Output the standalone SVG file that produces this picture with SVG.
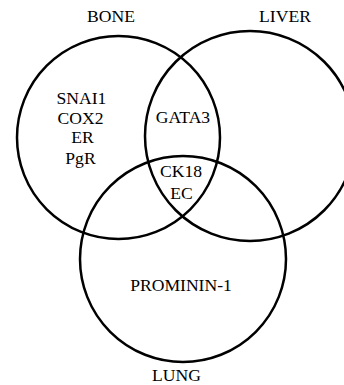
<svg xmlns="http://www.w3.org/2000/svg" width="344" height="385" viewBox="0 0 344 385">
<style>
.c{fill:none;stroke:#000;stroke-width:2.5}
text{font-family:'Liberation Serif','Times New Roman',serif;font-size:17.6px;fill:#000;text-anchor:middle}
</style>
<rect width="344" height="385" fill="#fff"/>
<g id="bone"><circle class="c" cx="118.5" cy="137.5" r="101.5"/><text x="111" y="22">BONE</text></g>
<g id="liver"><circle class="c" cx="250" cy="136" r="105"/><text x="285" y="22">LIVER</text></g>
<g id="lung"><circle class="c" cx="183" cy="259" r="103"/><text x="176.5" y="381">LUNG</text></g>
<g id="bone-only"><text x="81.5" y="104">SNAI1</text><text x="80.5" y="124">COX2</text><text x="82.5" y="143">ER</text><text x="80.5" y="164">PgR</text></g>
<g id="bone-liver"><text x="183" y="123">GATA3</text></g>
<g id="all"><text x="181" y="177">CK18</text><text x="181.5" y="199">EC</text></g>
<g id="lung-only"><text x="181" y="291">PROMININ-1</text></g>
<g id="connectors"/>
</svg>
